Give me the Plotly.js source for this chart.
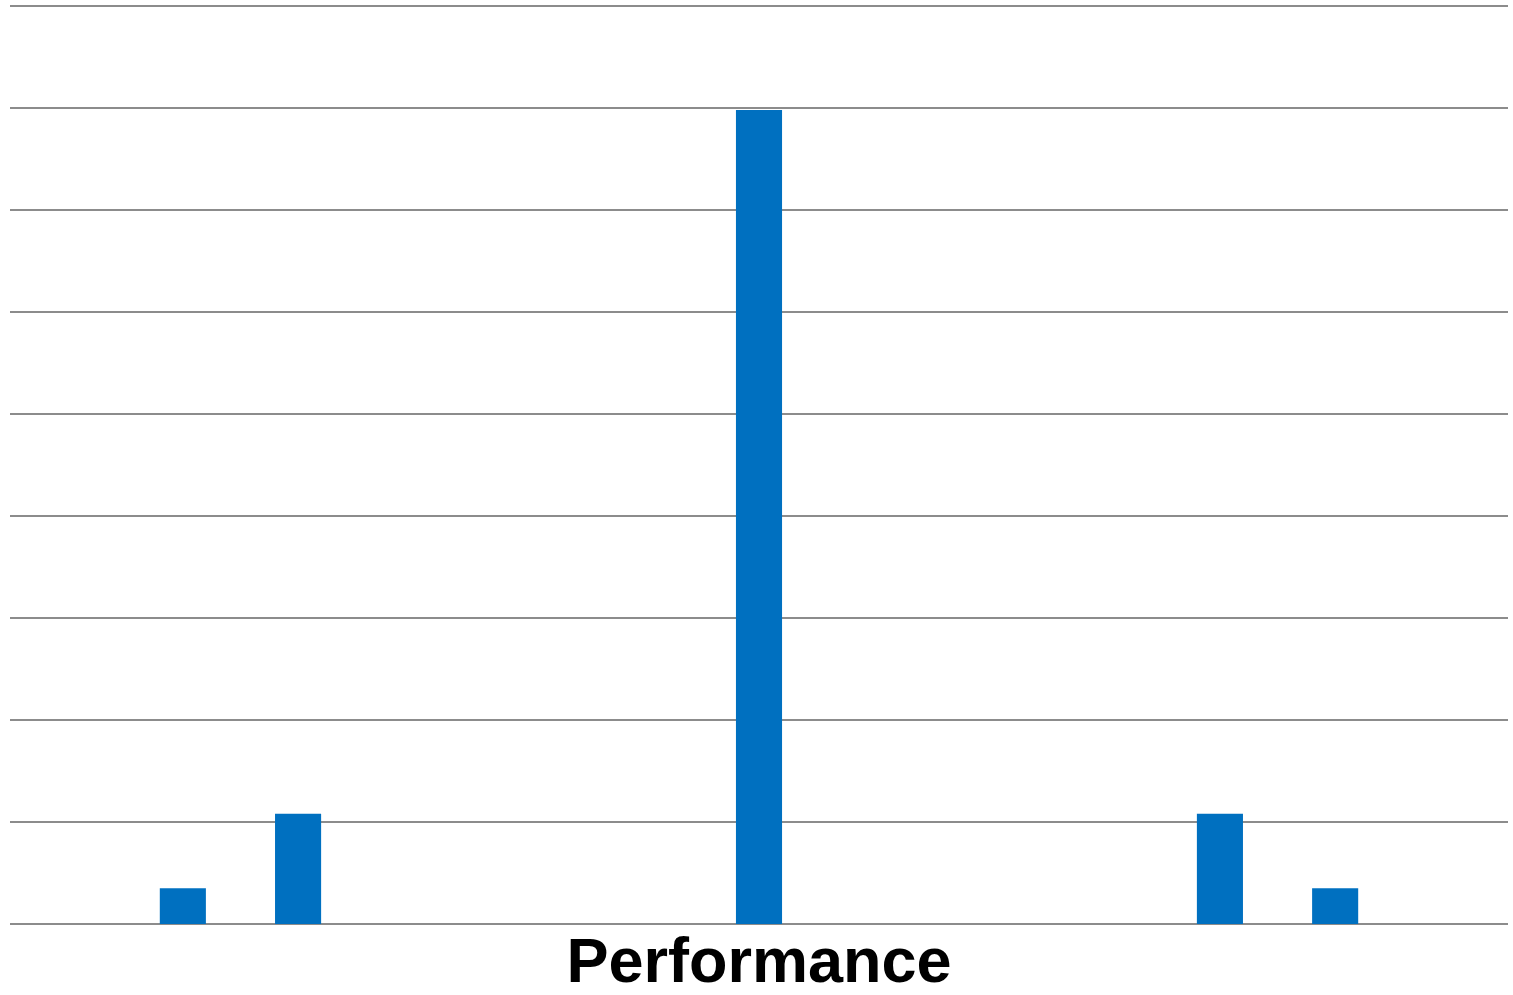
<!DOCTYPE html>
<html>
<head>
<meta charset="utf-8">
<script src="https://cdn.plot.ly/plotly-3.0.1.min.js"></script>
<style>html,body{margin:0;padding:0;background:#fff;}#chart{width:1513px;height:995px;}</style>
</head>
<body>
<div id="chart"></div>
<script>
const categories = ["c1","c2","c3","c4","c5","c6","c7","c8","c9","c10","c11","c12","c13"];
const values = [0, 0.35, 1.08, 0, 0, 0, 7.98, 0, 0, 0, 1.08, 0.35, 0];
const axisTitle = "Performance";

Plotly.newPlot("chart", [{
  type: "bar",
  x: categories,
  y: values,
  width: 0.4,
  marker: {color: "#0070C0", line: {width: 0}},
  hoverinfo: "none"
}], {
  width: 1513,
  height: 995,
  margin: {l: 10, r: 5, t: 5, b: 71, pad: 0},
  paper_bgcolor: "#ffffff",
  plot_bgcolor: "#ffffff",
  showlegend: false,
  bargap: 0.6,
  xaxis: {
    type: "category",
    showticklabels: false,
    ticks: "",
    showgrid: false,
    zeroline: false,
    showline: false,
    automargin: false,
    title: {text: "<b>" + axisTitle + "</b>", font: {family: "Liberation Sans, Arial, sans-serif", size: 63, color: "#000"}, standoff: 26}
  },
  yaxis: {
    range: [0, 9.01],
    dtick: 1,
    showticklabels: false,
    ticks: "",
    showgrid: true,
    gridcolor: "#8c8c8c",
    gridwidth: 2,
    zeroline: true,
    zerolinecolor: "#8c8c8c",
    zerolinewidth: 2,
    showline: false,
    automargin: false
  }
}, {displayModeBar: false, staticPlot: true});
</script>
</body>
</html>
